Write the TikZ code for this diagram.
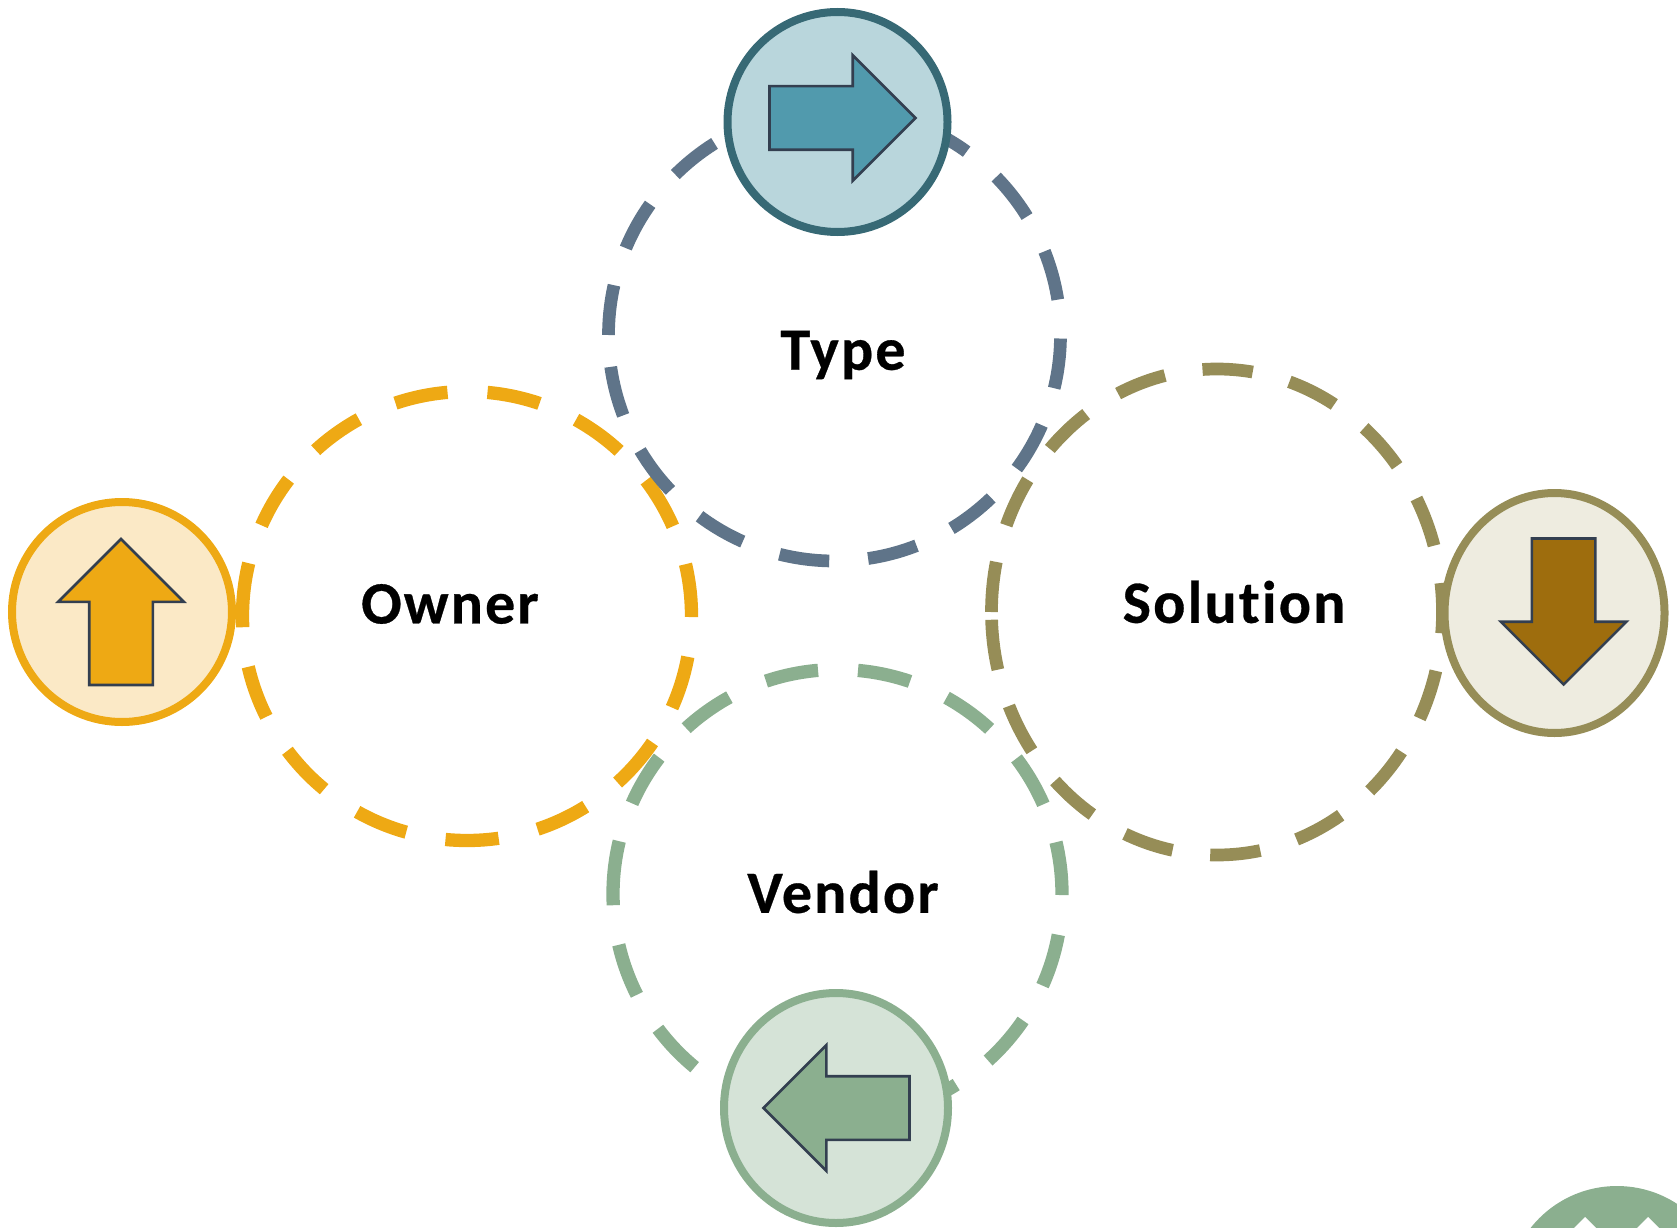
\documentclass[tikz,border=0pt]{standalone}
\usepackage{fontspec}
\setmainfont[Ligatures=NoCommon,BoldFeatures={LetterSpace=3.6,FakeBold=0.5}]{Carlito}
\usetikzlibrary{shapes.arrows, shapes.geometric}
\definecolor{typeline}{HTML}{5F7489}
\definecolor{ownerline}{HTML}{EEA914}
\definecolor{solutionline}{HTML}{968D57}
\definecolor{vendorline}{HTML}{8BAF8F}
\definecolor{typerim}{HTML}{376975}
\definecolor{typefill}{HTML}{B9D6DC}
\definecolor{typearrow}{HTML}{519AAD}
\definecolor{ownerfill}{HTML}{FBE9C6}
\definecolor{solutionfill}{HTML}{EEECE0}
\definecolor{solutionarrow}{HTML}{9E6D0D}
\definecolor{vendorfill}{HTML}{D5E3D7}
\definecolor{arrowline}{HTML}{333F50}

\begin{document}
\begin{tikzpicture}[x=1pt,y=-1pt]
		\tikzstyle{ring}=[line width=12.7pt]
		\tikzstyle{widering}=[line width=13.3pt,dash pattern=on 53.3pt off 40pt]
		\tikzstyle{icon}=[ellipse,line width=8pt,inner sep=0pt,outer sep=0pt]
		\tikzstyle{blockarrow}=[single arrow,draw=arrowline,line width=2.6pt,inner sep=30.5pt,outer sep=0pt,minimum height=146pt,minimum width=123pt,single arrow head extend=31pt,anchor=tip]
		\tikzstyle{ringlabel}=[font=\bfseries\fontsize{60}{60}\selectfont,inner sep=0pt]

		\useasboundingbox (0,0) rectangle (1677,1227.5);
		\clip (0,0) rectangle (1677,1227.5);

		\draw[ring,draw=solutionline,dash pattern=on 50.4pt off 38pt] (991.5,612) arc[start angle=180,end angle=-180,x radius=225.5pt,y radius=243pt];
		\draw[widering,draw=vendorline] (613,894) arc[start angle=180,end angle=-180,radius=224.5pt];
		\draw[widering,draw=ownerline] (242.5,616) arc[start angle=180,end angle=-180,radius=224.5pt];
		\draw[ring,draw=typeline,dash pattern=on 50.2pt off 39pt] (608.5,335) arc[start angle=180,end angle=-180,radius=226pt];

		\node[ringlabel] (typelabel) at (843,355) {Type};
		\node[ringlabel] (ownerlabel) at (450,604) {Owner};
		\node[ringlabel] (solutionlabel) at (1234,602) {Solution};
		\node[ringlabel] (vendorlabel) at (843,892) {Vendor};

		\node[icon,draw=typerim,fill=typefill,minimum width=220pt,minimum height=220pt] (typeicon) at (837.5,122) {};
		\node[icon,draw=ownerline,fill=ownerfill,minimum width=220pt,minimum height=220pt] (ownericon) at (122,612) {};
		\node[icon,draw=solutionline,fill=solutionfill,minimum width=220pt,minimum height=240pt] (solutionicon) at (1554.5,613) {};
		\node[icon,draw=vendorline,fill=vendorfill,minimum width=224pt,minimum height=230pt] (vendoricon) at (836,1108) {};

		\node[blockarrow,fill=typearrow] (typearrowhead) at (915.5,118) {};
		\node[blockarrow,fill=ownerline,shape border rotate=90] (ownerarrowhead) at (121,539) {};
		\node[blockarrow,fill=solutionarrow,shape border rotate=270] (solutionarrowhead) at (1563.6,684.5) {};
		\node[blockarrow,fill=vendorline,shape border rotate=180] (vendorarrowhead) at (763.5,1108) {};

		\node[circle,fill=vendorline,minimum size=220pt,inner sep=0pt] (cornerdisc) at (1617,1296) {};
		\fill[white] (1585,1217) -- (1560,1242) -- (1610,1242) -- cycle;
		\fill[white] (1648,1217) -- (1623,1242) -- (1673,1242) -- cycle;
	\end{tikzpicture}
\end{document}
